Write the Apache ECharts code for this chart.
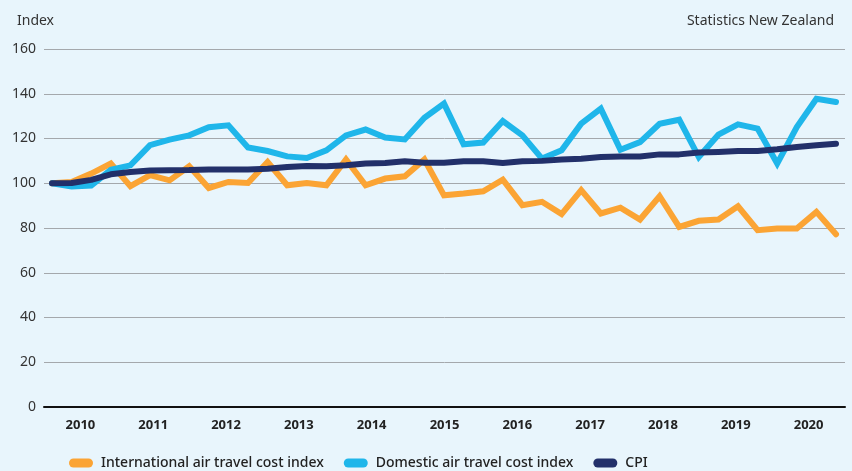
<!DOCTYPE html>
<html>
<head>
<meta charset="utf-8">
<script src="https://cdn.jsdelivr.net/npm/echarts@6/dist/echarts.min.js"></script>
<style>
html,body{margin:0;padding:0;background:#e8f5fc;}
#chart{width:852px;height:471px;}
</style>
</head>
<body>
<div id="chart"></div>
<script>
// Year tick labels
const years = ['2010','2011','2012','2013','2014','2015','2016','2017','2018','2019','2020'];
// Quarterly observations (41 points)
const international = [100,100.6,104.3,108.8,98.7,103.6,101.3,107.6,97.9,100.6,100.1,109.5,99.1,100.1,99.1,110.6,99.1,102.1,103.1,110.6,94.6,95.4,96.4,101.6,90.2,91.7,86.2,96.9,86.5,89.1,83.8,94.2,80.5,83.2,83.8,89.7,79,79.8,79.8,87.2,77.2];
const domestic = [100,98.5,99,106,108,117,119.5,121.4,125,125.9,116,114.4,112,111.3,114.7,121.4,124,120.4,119.6,129.3,135.6,117.4,118.2,127.8,121.4,111,114.7,126.6,133.3,115,118.4,126.6,128.4,111.7,121.7,126.3,124.4,108.8,125.1,137.8,136.3];
const cpi = [100,100.1,101.5,104,105,105.7,105.8,105.9,106.2,106.2,106.2,106.5,107.3,107.7,107.6,108,108.8,109.1,109.8,109.2,109.2,109.8,109.8,109.1,109.8,110,110.6,111,111.7,112,112,112.9,112.9,113.7,114,114.4,114.4,115.2,116.2,117,117.7];
const seriesNames = ['International air travel cost index','Domestic air travel cost index','CPI'];
const colors = ['#fba434','#1fb6ea','#22306a'];

const toPairs = arr => arr.map((v,i)=>[i,v]);
const capsule = 'path://M4.5,0 L19.5,0 A4.5,4.5 0 0 1 19.5,9 L4.5,9 A4.5,4.5 0 0 1 4.5,0 Z';

const chart = echarts.init(document.getElementById('chart'), null, {renderer:'canvas'});
chart.setOption({
  backgroundColor:'#e8f5fc',
  animation:false,
  textStyle:{fontFamily:'Noto Sans'},
  title:[
    {text:'Index',left:12,top:9,textStyle:{fontSize:14,fontWeight:'normal',color:'#333',fontFamily:'Noto Sans'}},
    {text:'Statistics New Zealand',right:13,top:9,textStyle:{fontSize:14,fontWeight:'normal',color:'#333',fontFamily:'Noto Sans'}}
  ],
  legend:{
    left:64,top:451,itemWidth:24,itemHeight:9,itemGap:20,
    icon:capsule,
    textStyle:{fontSize:14,fontWeight:500,color:'#222',fontFamily:'Noto Sans',padding:[0,0,0,3]},
    data:seriesNames
  },
  grid:{left:44,right:7,top:49,bottom:64,containLabel:false},
  xAxis:[
    {type:'category',data:years,boundaryGap:true,position:'bottom',
     axisLine:{lineStyle:{color:'#111',width:2}},axisTick:{show:false},
     axisLabel:{fontSize:13,fontWeight:'bold',color:'#222',margin:12,fontFamily:'Noto Sans'}},
    {type:'value',min:-0.408,max:40.459,show:false}
  ],
  yAxis:{type:'value',min:0,max:160,interval:20,
    axisLine:{show:false},axisTick:{show:false},
    axisLabel:{fontSize:14,color:'#333',margin:8,fontFamily:'Noto Sans'},
    splitLine:{lineStyle:{color:'#a4a8ac',width:1}}},
  series:[
    {name:seriesNames[0],type:'line',xAxisIndex:1,data:toPairs(international),symbol:'none',
     lineStyle:{color:colors[0],width:6,cap:'round',join:'miter'},itemStyle:{color:colors[0]}},
    {name:seriesNames[1],type:'line',xAxisIndex:1,data:toPairs(domestic),symbol:'none',
     lineStyle:{color:colors[1],width:6,cap:'round',join:'miter'},itemStyle:{color:colors[1]}},
    {name:seriesNames[2],type:'line',xAxisIndex:1,data:toPairs(cpi),symbol:'none',
     lineStyle:{color:colors[2],width:6,cap:'round',join:'round'},itemStyle:{color:colors[2]}}
  ]
});
</script>
</body>
</html>
